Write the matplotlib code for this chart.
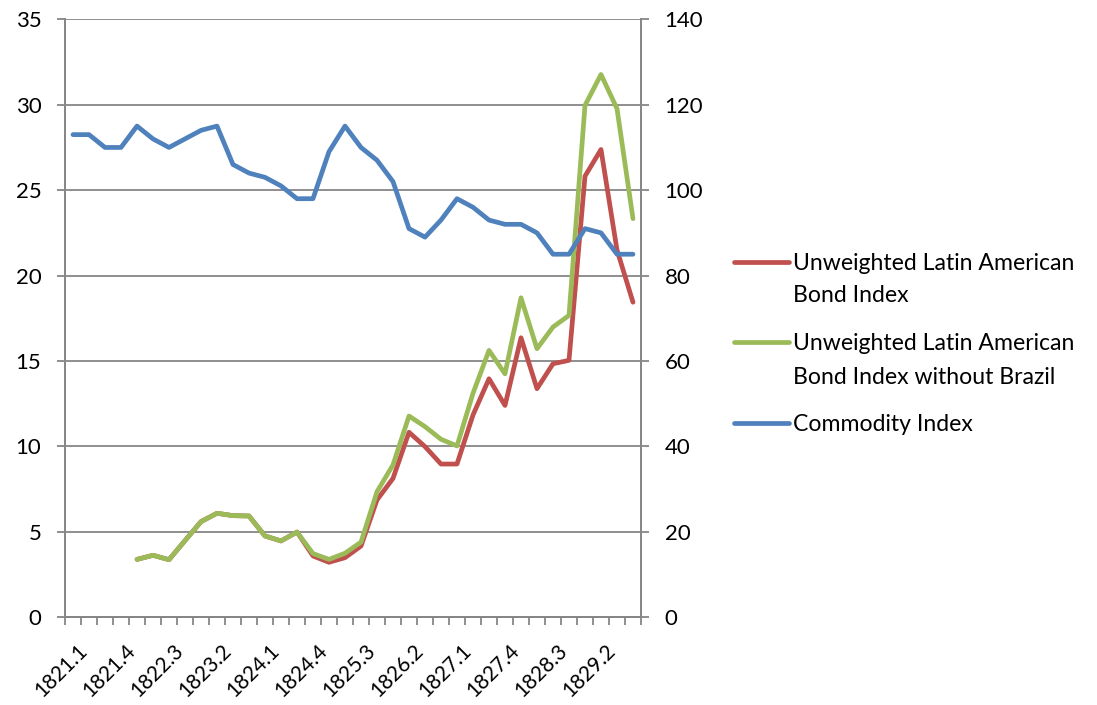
import numpy as np
import matplotlib
matplotlib.use("Agg")
import matplotlib.pyplot as plt
from matplotlib.lines import Line2D

plt.rcParams['font.family'] = ['Lato', 'DejaVu Sans']

# Quarterly categories 1821.1 ... 1829.4
years = list(range(1821, 1830))
quarters = [f"{y}.{q}" for y in years for q in range(1, 5)]

nan = np.nan
bond_index = [nan, nan, nan, nan,
              3.39, 3.63, 3.37, 4.49, 5.60, 6.09, 5.95, 5.93, 4.76, 4.47, 4.99,
              3.59, 3.22, 3.49, 4.17, 6.87, 8.13, 10.83, 9.99, 8.97, 8.97,
              11.84, 13.96, 12.40, 16.36, 13.38, 14.84, 15.04, 25.82, 27.38,
              21.50, 18.44]
bond_index_ex_brazil = [nan, nan, nan, nan,
                        3.39, 3.63, 3.37, 4.49, 5.60, 6.09, 5.95, 5.93, 4.76, 4.47, 4.99,
                        3.73, 3.39, 3.75, 4.40, 7.35, 8.92, 11.78, 11.16, 10.42, 10.03,
                        13.11, 15.62, 14.25, 18.70, 15.72, 16.99, 17.67, 29.96, 31.77,
                        29.77, 23.33]
commodity_index = [113, 113, 110, 110, 115, 112, 110, 112, 114, 115,
                   106, 104, 103, 101, 98, 98, 109, 115, 110, 107,
                   102, 91, 89, 93, 98, 96, 93, 92, 92, 90,
                   85, 85, 91, 90, 85, 85]

left_ticks = [0, 5, 10, 15, 20, 25, 30, 35]
right_ticks = [0, 20, 40, 60, 80, 100, 120, 140]

series_labels = ["Unweighted Latin American\nBond Index",
                 "Unweighted Latin American\nBond Index without Brazil",
                 "Commodity Index"]
colors = ["#C0504D", "#9BBB59", "#4F81BD"]

W, H = 1097, 705
fig = plt.figure(figsize=(W / 100, H / 100), dpi=100)
ax = fig.add_axes([65 / W, (H - 617.3) / H, (641 - 65) / W, (617.3 - 19.3) / H])
ax2 = ax.twinx()

x = np.arange(len(quarters))
lw = 3.4
ax.plot(x, bond_index, color=colors[0], lw=lw, solid_joinstyle='round',
        solid_capstyle='round', zorder=3)
ax.plot(x, bond_index_ex_brazil, color=colors[1], lw=lw, solid_joinstyle='round',
        solid_capstyle='round', zorder=4)
ax2.plot(x, commodity_index, color=colors[2], lw=lw, solid_joinstyle='round',
         solid_capstyle='round', zorder=5)

grid_c = "#868686"
ax.set_xlim(-0.5, len(quarters) - 0.5)
ax.set_ylim(0, 35)
ax2.set_ylim(0, 140)
ax.set_yticks(left_ticks)
ax2.set_yticks(right_ticks)
ax.yaxis.grid(True, color=grid_c, lw=1.3)
ax.set_axisbelow(True)

fs = 16
for a in (ax, ax2):
    a.spines["top"].set_visible(False)
    for s in ("left", "right", "bottom"):
        a.spines[s].set_color(grid_c)
        a.spines[s].set_linewidth(1.3)
    a.tick_params(axis='y', colors=grid_c, labelcolor='black', labelsize=fs,
                  length=6, width=1.3, direction='out', pad=11)

# Category tick marks sit between quarters; labels every third quarter
ax.set_xticks(np.arange(-0.5, len(quarters), 1.0), minor=True)
label_pos = x[::3]
ax.set_xticks(label_pos + 0.25)
ax.set_xticklabels([quarters[i] for i in label_pos], rotation=45, ha='right',
                   va='top', rotation_mode='anchor', fontsize=15)
ax.tick_params(axis='x', which='major', length=0, pad=17)
ax.tick_params(axis='x', which='minor', length=5.5, width=1.3, color=grid_c,
               direction='out')

# Legend drawn in figure pixel coordinates
def fx(px):
    return px / W

def fy(py):
    return 1 - py / H

legend_fs = 16.6
entry_y = [(261.7, 293.3), (341.7, 375.0), (422.7,)]
for label, c, ys in zip(series_labels, colors, entry_y):
    fig.add_artist(Line2D([fx(734), fx(789)], [fy(ys[0]), fy(ys[0])],
                          color=c, lw=lw, solid_capstyle='round'))
    for line_text, yy in zip(label.split("\n"), ys):
        fig.text(fx(793), fy(yy), line_text, fontsize=legend_fs, ha='left',
                 va='center_baseline')

fig.savefig("out.png", dpi=100)
